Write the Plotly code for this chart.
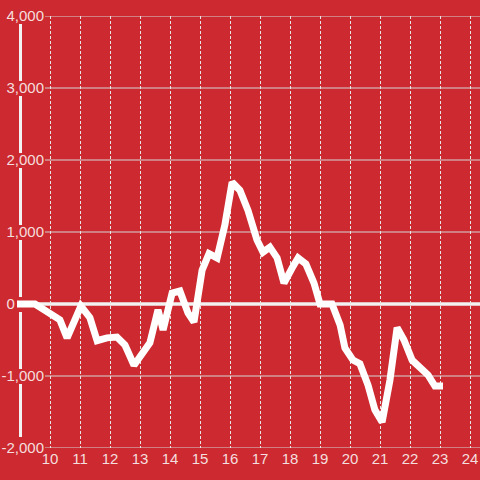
import plotly.graph_objects as go

# ---- data ----
x_vals = [8.9, 9.5, 10.33, 10.57, 11.03, 11.33, 11.57, 11.9, 12.23, 12.5, 12.8, 13.33,
          13.6, 13.77, 14.07, 14.33, 14.6, 14.8, 15.07, 15.3, 15.57, 15.83, 16.07, 16.33,
          16.6, 16.9, 17.1, 17.33, 17.57, 17.8, 18.07, 18.27, 18.53, 18.8, 19.0, 19.4,
          19.67, 19.83, 20.1, 20.33, 20.6, 20.83, 21.07, 21.33, 21.57, 21.8, 22.07, 22.33,
          22.6, 22.83, 23.1]
y_vals = [0, 0, -220, -470, -30, -190, -510, -470, -460, -570, -850, -540,
          -80, -360, 150, 180, -125, -250, 470, 700, 640, 1100, 1690, 1580,
          1300, 890, 720, 790, 640, 290, 500, 640, 555, 290, 0, 0,
          -290, -610, -780, -830, -1125, -1470, -1640, -1060, -330, -500, -780, -875,
          -985, -1140, -1140]

x_ticks = list(range(10, 25))
y_ticks = [-2000, -1000, 0, 1000, 2000, 3000, 4000]
y_ticktext = ["-2,000", "-1,000", "0" + "\u00a0" * 7, "1,000", "2,000", "3,000", "4,000"]

BG = "#cc2a30"
LABEL = "rgb(245,222,222)"
FONT = "Liberation Sans, Arial, sans-serif"
X_MIN, X_MAX = 8.8667, 24.3333
Y_MIN, Y_MAX = -2000, 4000

fig = go.Figure()
fig.add_trace(go.Scatter(
    x=x_vals, y=y_vals, mode="lines",
    line=dict(color="white", width=7),
    hoverinfo="skip", showlegend=False,
))

shapes = []
# horizontal grid lines
for v in y_ticks:
    shapes.append(dict(type="line", xref="x", yref="y", x0=9.833, x1=X_MAX, y0=v, y1=v,
                       line=dict(color="#d4d4d4", width=1), layer="below"))
# zero line
shapes.append(dict(type="line", xref="x", yref="y", x0=x_vals[0], x1=X_MAX, y0=0, y1=0,
                   line=dict(color="#f2f2f2", width=3.5), layer="below"))
# vertical axis line, broken behind tick labels
upx = (Y_MAX - Y_MIN) / 432.0
tops = sorted(y_ticks, reverse=True)
for i in range(len(tops) - 1):
    top = tops[i] - 8 * upx
    bot = tops[i + 1] + (11 if i == len(tops) - 2 else 7) * upx
    shapes.append(dict(type="line", xref="x", yref="y", x0=9.0167, x1=9.0167, y0=bot, y1=top,
                       line=dict(color="#f2f2f2", width=3), layer="below"))

fig.update_layout(
    width=480, height=480,
    margin=dict(l=16, r=0, t=16, b=32, autoexpand=False),
    paper_bgcolor=BG, plot_bgcolor=BG,
    font=dict(family=FONT, size=15, color=LABEL),
    shapes=shapes,
    xaxis=dict(range=[X_MIN, X_MAX], tickvals=x_ticks, showgrid=True,
               gridcolor="#e6e6e6", gridwidth=1, griddash="3px,2px",
               zeroline=False, showline=False, ticks="", automargin=False,
               ticklabeloverflow="allow",
               tickfont=dict(family=FONT, size=15, color=LABEL)),
    yaxis=dict(range=[Y_MIN, Y_MAX], tickvals=y_ticks, ticktext=y_ticktext,
               showgrid=False, zeroline=False, showline=False, ticks="", automargin=False,
               ticklabeloverflow="allow",
               tickfont=dict(family=FONT, size=15, color=LABEL),
               anchor="free", position=(44 - 16) / 464.0),
)

fig.write_html("out.html",
               config={"displayModeBar": False, "staticPlot": True},
               post_script="document.body.style.margin='0';document.body.style.background='%s';" % BG)
